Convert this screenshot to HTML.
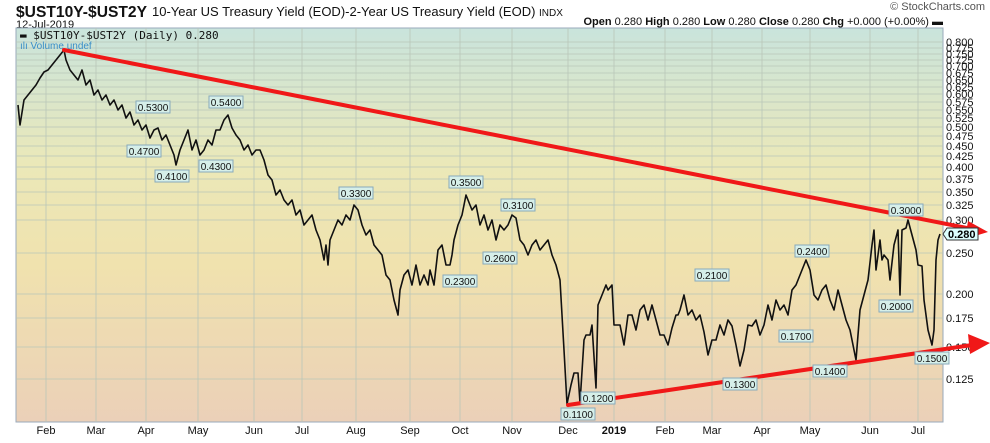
<!DOCTYPE html>
<html><head><meta charset="utf-8"><style>
body{margin:0;width:990px;height:438px;background:#fff;overflow:hidden;font-family:"Liberation Sans",sans-serif}
</style></head><body>
<svg width="990" height="438" xmlns="http://www.w3.org/2000/svg" font-family="Liberation Sans, sans-serif">
<defs>
<linearGradient id="bg" x1="0" y1="0" x2="0" y2="1">
<stop offset="0" stop-color="#c9e4dc"/>
<stop offset="0.35" stop-color="#ebe8b8"/>
<stop offset="0.6" stop-color="#f0e2ae"/>
<stop offset="1" stop-color="#ebd0b8"/>
</linearGradient>
</defs>
<text x="16" y="17" font-size="16" font-weight="bold" fill="#111" textLength="131" lengthAdjust="spacingAndGlyphs">$UST10Y-$UST2Y</text>
<text x="152" y="16" font-size="13" fill="#111">10-Year US Treasury Yield (EOD)-2-Year US Treasury Yield (EOD) <tspan font-size="10">INDX</tspan></text>
<text x="16" y="28" font-size="11" fill="#111">12-Jul-2019</text>
<text x="985" y="10" font-size="11" fill="#555" text-anchor="end">© StockCharts.com</text>
<text x="943" y="25" font-size="11" fill="#111" text-anchor="end"><tspan font-weight="bold">Open</tspan> 0.280 <tspan font-weight="bold">High</tspan> 0.280 <tspan font-weight="bold">Low</tspan> 0.280 <tspan font-weight="bold">Close</tspan> 0.280 <tspan font-weight="bold">Chg</tspan> +0.000 (+0.00%) ▬</text>
<rect x="16" y="28" width="927" height="394" fill="url(#bg)" stroke="#9ab" stroke-width="1"/>
<g stroke="#b9c6b8" stroke-width="0.8">
<line x1="16" x2="943" y1="42" y2="42"/><line x1="16" x2="943" y1="48" y2="48"/><line x1="16" x2="943" y1="54" y2="54"/><line x1="16" x2="943" y1="60" y2="60"/><line x1="16" x2="943" y1="66" y2="66"/><line x1="16" x2="943" y1="73" y2="73"/><line x1="16" x2="943" y1="80" y2="80"/><line x1="16" x2="943" y1="87" y2="87"/><line x1="16" x2="943" y1="94" y2="94"/><line x1="16" x2="943" y1="102" y2="102"/><line x1="16" x2="943" y1="110" y2="110"/><line x1="16" x2="943" y1="118" y2="118"/><line x1="16" x2="943" y1="127" y2="127"/><line x1="16" x2="943" y1="136" y2="136"/><line x1="16" x2="943" y1="146" y2="146"/><line x1="16" x2="943" y1="156" y2="156"/><line x1="16" x2="943" y1="167" y2="167"/><line x1="16" x2="943" y1="179" y2="179"/><line x1="16" x2="943" y1="192" y2="192"/><line x1="16" x2="943" y1="205" y2="205"/><line x1="16" x2="943" y1="220" y2="220"/><line x1="16" x2="943" y1="253" y2="253"/><line x1="16" x2="943" y1="294" y2="294"/><line x1="16" x2="943" y1="318" y2="318"/><line x1="16" x2="943" y1="347" y2="347"/><line x1="16" x2="943" y1="379" y2="379"/>
<line y1="28" y2="422" x1="46" x2="46"/><line y1="28" y2="422" x1="96" x2="96"/><line y1="28" y2="422" x1="146" x2="146"/><line y1="28" y2="422" x1="198" x2="198"/><line y1="28" y2="422" x1="254" x2="254"/><line y1="28" y2="422" x1="302" x2="302"/><line y1="28" y2="422" x1="356" x2="356"/><line y1="28" y2="422" x1="410" x2="410"/><line y1="28" y2="422" x1="460" x2="460"/><line y1="28" y2="422" x1="512" x2="512"/><line y1="28" y2="422" x1="568" x2="568"/><line y1="28" y2="422" x1="614" x2="614"/><line y1="28" y2="422" x1="665" x2="665"/><line y1="28" y2="422" x1="712" x2="712"/><line y1="28" y2="422" x1="762" x2="762"/><line y1="28" y2="422" x1="810" x2="810"/><line y1="28" y2="422" x1="870" x2="870"/><line y1="28" y2="422" x1="918" x2="918"/>
</g>
<g font-size="11" fill="#111">
<text x="946" y="46">0.800</text><text x="946" y="52">0.775</text><text x="946" y="58">0.750</text><text x="946" y="64">0.725</text><text x="946" y="70">0.700</text><text x="946" y="77">0.675</text><text x="946" y="84">0.650</text><text x="946" y="91">0.625</text><text x="946" y="98">0.600</text><text x="946" y="106">0.575</text><text x="946" y="114">0.550</text><text x="946" y="122">0.525</text><text x="946" y="131">0.500</text><text x="946" y="140">0.475</text><text x="946" y="150">0.450</text><text x="946" y="160">0.425</text><text x="946" y="171">0.400</text><text x="946" y="183">0.375</text><text x="946" y="196">0.350</text><text x="946" y="209">0.325</text><text x="946" y="224">0.300</text><text x="946" y="257">0.250</text><text x="946" y="298">0.200</text><text x="946" y="322">0.175</text><text x="946" y="351">0.150</text><text x="946" y="383">0.125</text>
</g>
<g font-size="11" fill="#111" text-anchor="middle">
<text x="46" y="434">Feb</text><text x="96" y="434">Mar</text><text x="146" y="434">Apr</text><text x="198" y="434">May</text><text x="254" y="434">Jun</text><text x="302" y="434">Jul</text><text x="356" y="434">Aug</text><text x="410" y="434">Sep</text><text x="460" y="434">Oct</text><text x="512" y="434">Nov</text><text x="568" y="434">Dec</text><text x="614" y="434" font-weight="bold">2019</text><text x="665" y="434">Feb</text><text x="712" y="434">Mar</text><text x="762" y="434">Apr</text><text x="810" y="434">May</text><text x="870" y="434">Jun</text><text x="918" y="434">Jul</text>
</g>
<text x="20" y="39" font-size="11" font-family="DejaVu Sans Mono, monospace" fill="#111">▬ $UST10Y-$UST2Y (Daily) 0.280</text>
<text x="20" y="49" font-size="10" fill="#3a8ec8">ılı Volume undef</text>
<polyline fill="none" stroke="#111" stroke-width="1.6" stroke-linejoin="round" points="18,105 20,125 24,100 28,95 32,90 36,85 40,78 44,72 48,70 52,65 56,60 60,55 64,50 66,60 70,70 74,75 78,80 82,70 86,85 90,80 94,95 98,90 102,100 106,95 110,105 114,100 118,110 122,105 126,118 130,112 134,125 138,120 142,130 146,125 150,138 154,130 158,128 162,140 166,135 170,145 174,155 176,165 180,150 184,140 188,130 192,150 196,140 200,155 204,150 208,140 212,145 216,130 220,130 224,120 228,115 232,128 236,135 240,140 244,150 248,145 252,155 256,150 260,150 264,160 268,175 272,180 276,195 280,190 284,200 288,205 292,200 296,215 300,210 304,225 308,220 312,215 316,230 320,240 324,260 326,245 328,265 330,240 334,230 338,220 342,225 346,215 350,220 354,205 358,210 362,225 366,235 370,230 374,245 378,250 382,255 386,275 390,280 394,300 398,315 400,290 404,275 408,270 412,285 416,265 420,285 424,275 428,285 430,270 434,285 438,250 442,245 446,265 450,265 452,255 454,240 458,225 462,215 466,195 468,200 472,210 476,205 480,225 484,215 488,230 492,220 496,240 500,225 504,230 508,225 512,215 516,218 520,240 524,245 528,255 532,245 536,240 540,250 544,245 548,240 552,255 556,265 560,280 564,350 567,404 571,385 574,373 578,373 580,403 584,340 586,335 590,335 592,325 596,388 598,305 602,295 606,285 608,290 612,285 614,325 616,325 620,325 624,345 628,315 632,315 636,330 640,310 644,305 648,320 652,305 656,320 660,335 664,335 668,345 672,328 676,315 678,315 680,310 684,295 688,315 692,310 696,320 700,315 704,332 708,355 712,340 716,340 720,325 724,335 728,320 732,326 736,345 740,366 744,350 748,325 752,326 756,320 760,335 764,325 768,305 772,320 776,300 780,310 784,305 788,315 792,290 796,285 800,275 804,265 806,260 810,270 814,295 818,300 822,290 826,285 830,300 834,310 838,290 842,305 846,320 850,330 852,340 856,360 860,310 864,295 868,280 872,245 874,230 876,270 880,240 882,260 884,255 888,260 890,280 894,245 898,230 900,295 902,230 906,228 908,220 912,235 916,250 918,265 922,266 924,300 928,330 932,345 934,330 936,260 938,240 940,234"/>
<g stroke="#f01818" stroke-width="4" stroke-linecap="round"><line x1="64" y1="50" x2="972" y2="229"/><line x1="568" y1="405" x2="972" y2="345"/></g>
<polygon points="988,232 968,221 965,239" fill="#f01818"/>
<polygon points="990,343 968,334 970,354" fill="#f01818"/>
<polygon points="943,234 947,228 978,228 978,240 947,240" fill="#dff" stroke="#333"/>
<text x="948" y="238" font-size="11" font-weight="bold">0.280</text>
<g font-size="10" fill="#111">
<g transform="translate(153,107)"><rect x="-17" y="-6" width="34" height="12" fill="#d6efe9" stroke="#8ab"/><text text-anchor="middle" y="4">0.5300</text></g>
<g transform="translate(144,151)"><rect x="-17" y="-6" width="34" height="12" fill="#d6efe9" stroke="#8ab"/><text text-anchor="middle" y="4">0.4700</text></g>
<g transform="translate(172,176)"><rect x="-17" y="-6" width="34" height="12" fill="#d6efe9" stroke="#8ab"/><text text-anchor="middle" y="4">0.4100</text></g>
<g transform="translate(226,102)"><rect x="-17" y="-6" width="34" height="12" fill="#d6efe9" stroke="#8ab"/><text text-anchor="middle" y="4">0.5400</text></g>
<g transform="translate(216,166)"><rect x="-17" y="-6" width="34" height="12" fill="#d6efe9" stroke="#8ab"/><text text-anchor="middle" y="4">0.4300</text></g>
<g transform="translate(356,193)"><rect x="-17" y="-6" width="34" height="12" fill="#d6efe9" stroke="#8ab"/><text text-anchor="middle" y="4">0.3300</text></g>
<g transform="translate(466,182)"><rect x="-17" y="-6" width="34" height="12" fill="#d6efe9" stroke="#8ab"/><text text-anchor="middle" y="4">0.3500</text></g>
<g transform="translate(460,281)"><rect x="-17" y="-6" width="34" height="12" fill="#d6efe9" stroke="#8ab"/><text text-anchor="middle" y="4">0.2300</text></g>
<g transform="translate(518,205)"><rect x="-17" y="-6" width="34" height="12" fill="#d6efe9" stroke="#8ab"/><text text-anchor="middle" y="4">0.3100</text></g>
<g transform="translate(500,258)"><rect x="-17" y="-6" width="34" height="12" fill="#d6efe9" stroke="#8ab"/><text text-anchor="middle" y="4">0.2600</text></g>
<g transform="translate(578,414)"><rect x="-17" y="-6" width="34" height="12" fill="#d6efe9" stroke="#8ab"/><text text-anchor="middle" y="4">0.1100</text></g>
<g transform="translate(598,398)"><rect x="-17" y="-6" width="34" height="12" fill="#d6efe9" stroke="#8ab"/><text text-anchor="middle" y="4">0.1200</text></g>
<g transform="translate(712,275)"><rect x="-17" y="-6" width="34" height="12" fill="#d6efe9" stroke="#8ab"/><text text-anchor="middle" y="4">0.2100</text></g>
<g transform="translate(740,384)"><rect x="-17" y="-6" width="34" height="12" fill="#d6efe9" stroke="#8ab"/><text text-anchor="middle" y="4">0.1300</text></g>
<g transform="translate(812,251)"><rect x="-17" y="-6" width="34" height="12" fill="#d6efe9" stroke="#8ab"/><text text-anchor="middle" y="4">0.2400</text></g>
<g transform="translate(796,336)"><rect x="-17" y="-6" width="34" height="12" fill="#d6efe9" stroke="#8ab"/><text text-anchor="middle" y="4">0.1700</text></g>
<g transform="translate(830,371)"><rect x="-17" y="-6" width="34" height="12" fill="#d6efe9" stroke="#8ab"/><text text-anchor="middle" y="4">0.1400</text></g>
<g transform="translate(906,210)"><rect x="-17" y="-6" width="34" height="12" fill="#d6efe9" stroke="#8ab"/><text text-anchor="middle" y="4">0.3000</text></g>
<g transform="translate(896,306)"><rect x="-17" y="-6" width="34" height="12" fill="#d6efe9" stroke="#8ab"/><text text-anchor="middle" y="4">0.2000</text></g>
<g transform="translate(932,358)"><rect x="-17" y="-6" width="34" height="12" fill="#d6efe9" stroke="#8ab"/><text text-anchor="middle" y="4">0.1500</text></g>
</g>
</svg>
</body></html>
